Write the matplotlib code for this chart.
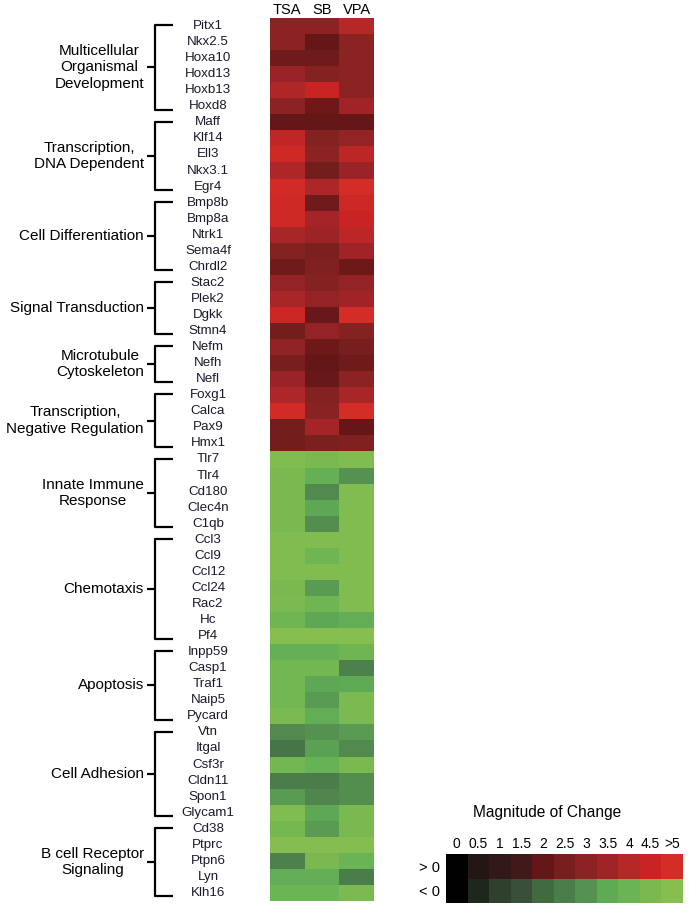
import numpy as np
import matplotlib
matplotlib.use("Agg")
import matplotlib.pyplot as plt
from matplotlib.colors import LinearSegmentedColormap

plt.rcParams['font.family'] = ['Liberation Sans', 'DejaVu Sans']

# Treatments (columns)
treatments = ['TSA', 'SB', 'VPA']

# Gene groups and genes (top to bottom)
group_names = ['Multicellular\nOrganismal\nDevelopment', 'Transcription,\nDNA Dependent',
               'Cell Differentiation', 'Signal Transduction', 'Microtubule\nCytoskeleton',
               'Transcription,\nNegative Regulation', 'Innate Immune\nResponse', 'Chemotaxis',
               'Apoptosis', 'Cell Adhesion', 'B cell Receptor\nSignaling']
group_sizes = [6, 5, 5, 4, 3, 4, 5, 7, 5, 6, 5]

genes = ['Pitx1', 'Nkx2.5', 'Hoxa10', 'Hoxd13', 'Hoxb13', 'Hoxd8',
         'Maff', 'Klf14', 'Ell3', 'Nkx3.1', 'Egr4',
         'Bmp8b', 'Bmp8a', 'Ntrk1', 'Sema4f', 'Chrdl2',
         'Stac2', 'Plek2', 'Dgkk', 'Stmn4',
         'Nefm', 'Nefh', 'Nefl',
         'Foxg1', 'Calca', 'Pax9', 'Hmx1',
         'Tlr7', 'Tlr4', 'Cd180', 'Clec4n', 'C1qb',
         'Ccl3', 'Ccl9', 'Ccl12', 'Ccl24', 'Rac2', 'Hc', 'Pf4',
         'Inpp59', 'Casp1', 'Traf1', 'Naip5', 'Pycard',
         'Vtn', 'Itgal', 'Csf3r', 'Cldn11', 'Spon1', 'Glycam1',
         'Cd38', 'Ptprc', 'Ptpn6', 'Lyn', 'Klh16']

# Signed magnitude of change (estimated from colours)
tsa = [3.0, 3.0, 2.3, 3.3, 3.8, 3.0,
       2.0, 4.3, 4.8, 3.8, 4.9,
       4.8, 4.8, 3.7, 2.8, 2.3,
       3.2, 3.7, 4.6, 2.4,
       3.1, 2.5, 3.3,
       3.8, 4.9, 2.4, 2.4,
       -4.8, -4.5, -4.5, -4.5, -4.5,
       -4.8, -4.8, -4.8, -4.5, -4.6, -4.2, -5.0,
       -3.8, -4.3, -4.3, -4.3, -4.6,
       -2.8, -2.3, -4.3, -2.5, -3.2, -4.8,
       -4.4, -4.9, -2.6, -3.6, -4.1]
sb = [3.0, 2.0, 2.3, 2.8, 4.5, 2.2,
      2.0, 2.8, 3.0, 2.4, 3.8,
      2.3, 3.6, 3.4, 2.6, 2.7,
      2.8, 3.2, 2.1, 3.2,
      2.2, 2.0, 2.1,
      2.8, 2.9, 3.6, 2.6,
      -4.5, -3.8, -2.8, -3.4, -2.9,
      -4.8, -4.2, -4.8, -3.2, -4.2, -3.4, -5.0,
      -3.8, -4.3, -3.4, -3.2, -3.6,
      -3.0, -3.3, -3.9, -2.5, -2.7, -3.4,
      -3.2, -4.9, -4.5, -3.6, -4.1]
vpa = [4.0, 3.0, 3.0, 3.0, 3.0, 3.5,
       2.0, 3.2, 4.2, 3.3, 5.0,
       4.7, 4.5, 4.2, 3.5, 2.2,
       3.2, 3.5, 5.0, 2.8,
       2.5, 2.3, 3.0,
       3.7, 5.0, 2.0, 2.7,
       -4.8, -3.0, -4.8, -4.8, -4.8,
       -4.8, -4.8, -4.8, -4.8, -4.8, -3.6, -5.0,
       -4.2, -2.6, -3.5, -4.6, -4.6,
       -3.2, -2.8, -4.5, -2.9, -2.9, -4.5,
       -4.5, -4.9, -4.0, -2.5, -4.6]

# Legend scale
legend_steps = [0, 0.5, 1, 1.5, 2, 2.5, 3, 3.5, 4, 4.5, 5]
legend_labels = ['0', '0.5', '1', '1.5', '2', '2.5', '3', '3.5', '4', '4.5', '>5']

# green (-5) -> black (0) -> red (+5)
anchors = [(135, 190, 80), (120, 185, 80), (105, 180, 85), (95, 170, 85), (85, 145, 80),
           (75, 125, 75), (65, 105, 65), (55, 80, 55), (45, 65, 45), (30, 40, 30), (0, 0, 0),
           (38, 22, 22), (50, 25, 25), (65, 25, 25), (100, 22, 22), (120, 30, 30),
           (140, 35, 35), (160, 35, 40), (180, 40, 40), (200, 35, 35), (212, 45, 40)]
cmap = LinearSegmentedColormap.from_list(
    'gbr', [(i / 20, tuple(c / 255 for c in rgb)) for i, rgb in enumerate(anchors)])

W, H = 689, 907
fig = plt.figure(figsize=(W / 100, H / 100), dpi=100)

# heatmap axes in pixel geometry
hx0, hx1, hy0, hy1 = 270, 374, 18, 901
ax = fig.add_axes([hx0 / W, 1 - hy1 / H, (hx1 - hx0) / W, (hy1 - hy0) / H])
data = np.array([tsa, sb, vpa]).T
n = len(genes)
ax.pcolormesh(np.arange(4), np.arange(n + 1), data, cmap=cmap, vmin=-5, vmax=5)
ax.set_xlim(0, 3)
ax.set_ylim(n, 0)
for s in ax.spines.values():
    s.set_visible(False)
ax.xaxis.tick_top()
ax.set_xticks(np.arange(3) + 0.5)
ax.set_xticklabels(treatments, fontsize=10.5)
ax.tick_params(axis='x', length=0, pad=0.5)
ax.set_yticks([])


def px(x):
    return (x - hx0) / (hx1 - hx0)


tr = ax.get_yaxis_transform()
for i, g in enumerate(genes):
    ax.text(px(208), i + 0.5, g, transform=tr, ha='center', va='center',
            fontsize=9.6, color='#1a1a2e')

start = 0
for name, size in zip(group_names, group_sizes):
    top = start + 0.45
    bot = start + size - 0.3
    mid = (top + bot) / 2
    kw = dict(transform=tr, color='black', lw=1.6, clip_on=False,
              solid_capstyle='butt')
    ax.plot([px(173), px(155), px(155), px(173)], [top, top, bot, bot], **kw)
    ax.plot([px(147), px(155)], [mid, mid], **kw)
    ax.text(px(144), mid, name, transform=tr, ha='right', va='center',
            multialignment='center', fontsize=11, linespacing=1.2)
    start += size

# legend
lx0, lx1, ly0, ly1 = 446, 683, 854, 903
lax = fig.add_axes([lx0 / W, 1 - ly1 / H, (lx1 - lx0) / W, (ly1 - ly0) / H])
steps = np.array(legend_steps)
lax.pcolormesh(np.arange(len(steps) + 1), np.arange(3), np.vstack([steps, -steps]),
               cmap=cmap, vmin=-5, vmax=5)
lax.set_xlim(0, len(steps))
lax.set_ylim(2, 0)
for s in lax.spines.values():
    s.set_visible(False)
lax.xaxis.tick_top()
lax.set_xticks(np.arange(len(steps)) + 0.5)
lax.set_xticklabels(legend_labels, fontsize=10)
lax.tick_params(axis='x', length=0, pad=2)
lax.set_yticks([0.5, 1.5])
lax.set_yticklabels(['> 0', '< 0'], fontsize=10.5)
lax.tick_params(axis='y', length=0, pad=4)
fig.text(547 / W, 1 - 812 / H, 'Magnitude of Change', ha='center', va='center', fontsize=11.2)

fig.savefig('out.png', dpi=100)
